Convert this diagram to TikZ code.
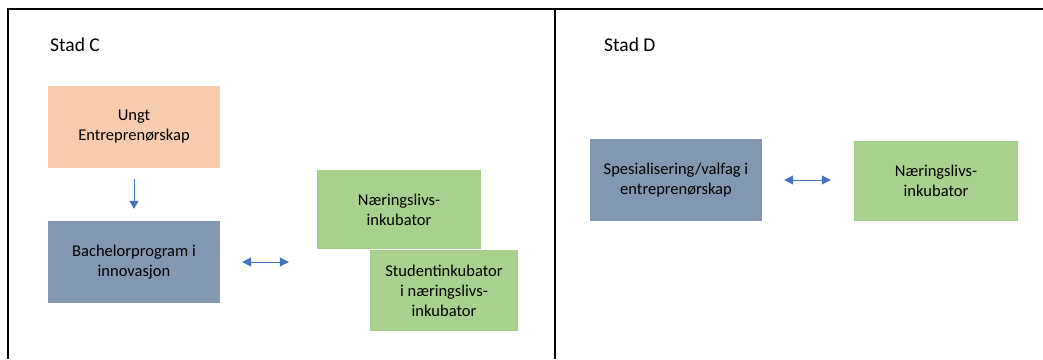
\documentclass[tikz,border=0pt]{standalone}
\usepackage{fontspec}
\setmainfont{Carlito}
\usetikzlibrary{arrows.meta}
\definecolor{peach}{HTML}{F8CBAD}
\definecolor{slate}{HTML}{8497B0}
\definecolor{leaf}{HTML}{A9D18E}
\definecolor{pil}{HTML}{4472C4}
\tikzset{
	boks/.style={inner sep=0pt, align=center, font=\fontsize{16.5bp}{20bp}\selectfont},
	pilen/.style={draw=pil, line width=1bp, -{Triangle[length=8bp,width=9bp]}},
	dobbel/.style={draw=pil, line width=1bp, {Triangle[length=9bp,width=9bp]}-{Triangle[length=9bp,width=9bp]}},
	stad/.style={anchor=west, inner sep=0pt, font=\fontsize{19.5bp}{23bp}\selectfont}
}

\begin{document}
\begin{tikzpicture}[x=1bp, y=-1bp]
		%%%%% START %%%%%
		
		\useasboundingbox (0, 0) rectangle (1043, 359);
		
		\draw[line width=1.5bp] (8, 359) -- (8, 9) -- (1043, 9);
		\draw[line width=1.5bp] (555, 9) -- (555, 359);
		
		\node[stad] (stadC) at (50, 45) {Stad C};
		\node[stad] (stadD) at (604, 45) {Stad D};
		
		\node[boks, fill=peach, minimum width=172bp, minimum height=82bp] (ue) at (134, 127) {Ungt\\Entreprenørskap};
		\node[boks, fill=slate, minimum width=172bp, minimum height=82bp] (bach) at (134, 262) {Bachelorprogram i\\innovasjon};
		\node[boks, fill=leaf, minimum width=164bp, minimum height=79bp] (nlC) at (399, 209.5) {Næringslivs-\\inkubator};
		\node[boks, fill=leaf, minimum width=148bp, minimum height=81bp] (stud) at (444, 290.5) {Studentinkubator\\i næringslivs-\\inkubator};
		
		\draw[pilen, shorten <=11bp, shorten >=12bp] (ue) -- (bach);
		\draw[dobbel, shorten <=22bp, shorten >=28bp] (bach.east) -- (bach.east -| nlC.west);
		
		\node[boks, fill=slate, minimum width=172bp, minimum height=82bp] (spes) at (676, 180) {Spesialisering/valfag i\\entreprenørskap};
		\node[boks, fill=leaf, minimum width=164bp, minimum height=80bp] (nlD) at (936, 181) {Næringslivs-\\inkubator};
		
		\draw[dobbel, shorten <=22bp, shorten >=23bp] (spes.east) -- (spes.east -| nlD.west);
		
		%%%%% END %%%%%
	\end{tikzpicture}
\end{document}
